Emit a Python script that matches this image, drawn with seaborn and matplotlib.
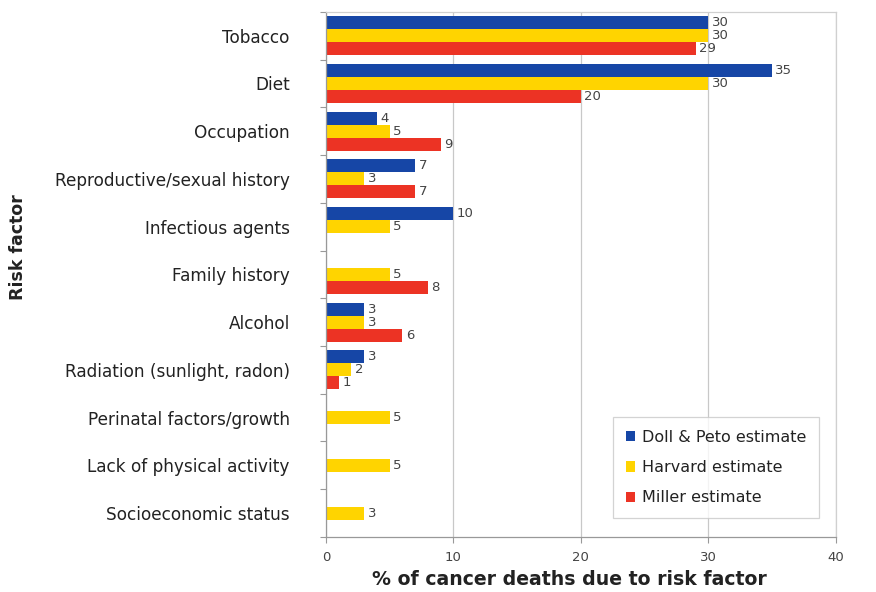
import numpy as np
import pandas as pd
import matplotlib
matplotlib.use("Agg")
import matplotlib.pyplot as plt
import seaborn as sns
from matplotlib.ticker import FixedLocator

categories = [
    "Tobacco",
    "Diet",
    "Occupation",
    "Reproductive/sexual history",
    "Infectious agents",
    "Family history",
    "Alcohol",
    "Radiation (sunlight, radon)",
    "Perinatal factors/growth",
    "Lack of physical activity",
    "Socioeconomic status",
]
series_names = ["Doll & Peto estimate", "Harvard estimate", "Miller estimate"]
doll_peto = [30, 35, 4, 7, 10, np.nan, 3, 3, np.nan, np.nan, np.nan]
harvard = [30, 30, 5, 3, 5, 5, 3, 2, 5, 5, 3]
miller = [29, 20, 9, 7, np.nan, 8, 6, 1, np.nan, np.nan, np.nan]
x_ticks = [0, 10, 20, 30, 40]

colors = ["#1646a6", "#ffd400", "#ec3324"]

rows = []
for name, vals in zip(series_names, [doll_peto, harvard, miller]):
    for cat, v in zip(categories, vals):
        rows.append({"Risk factor": cat, "Estimate": name, "Percent": v})
df = pd.DataFrame(rows)

sns.set_theme(style="white")
plt.rcParams["font.family"] = ["DejaVu Sans"]

fig, ax = plt.subplots(figsize=(8.76, 5.92), dpi=100)
fig.subplots_adjust(left=0.372, right=0.954, top=0.980, bottom=0.093)

sns.barplot(
    data=df, y="Risk factor", x="Percent", hue="Estimate",
    order=categories, hue_order=series_names, palette=colors,
    orient="h", width=0.82, saturation=1, ax=ax, errorbar=None,
    linewidth=0,
)

for cont in ax.containers:
    labels = []
    for bar in cont:
        w = bar.get_width()
        labels.append("" if (w is None or np.isnan(w) or w == 0) else f"{w:g}")
    ax.bar_label(cont, labels=labels, padding=2.5, fontsize=9.5, color="#444444")

ax.set_xlim(0, 40)
ax.set_ylim(len(categories) - 0.5, -0.5)
ax.set_xticks(x_ticks)
ax.set_xticklabels([str(t) for t in x_ticks], fontsize=9.5, color="#444444")
ax.tick_params(axis="y", length=0, labelsize=12.2, colors="#222222", pad=26)
ax.yaxis.set_minor_locator(FixedLocator(np.arange(-0.5, len(categories), 1.0)))
ax.tick_params(axis="y", which="minor", left=True, length=4, color="#999999", width=0.8)
ax.tick_params(axis="x", bottom=True, length=4, color="#999999", width=0.8, pad=6)

ax.grid(axis="x", color="#c8c8c8", linewidth=0.9)
ax.set_axisbelow(True)
for side in ["top", "right"]:
    ax.spines[side].set_color("#d0d0d0")
    ax.spines[side].set_linewidth(0.9)
for side in ["left", "bottom"]:
    ax.spines[side].set_color("#999999")
    ax.spines[side].set_linewidth(0.9)

ax.set_xlabel("% of cancer deaths due to risk factor", fontsize=13.6,
              fontweight="bold", color="#222222")
ax.xaxis.set_label_coords(0.477, -0.063)
ax.set_ylabel("Risk factor", fontsize=12.5, fontweight="bold", color="#222222")
ax.yaxis.set_label_coords(-0.586, 0.552)

leg = ax.legend(
    loc="lower right", bbox_to_anchor=(0.967, 0.036), frameon=True,
    fancybox=False, edgecolor="#c8c8c8", fontsize=11.5, title=None,
    handlelength=0.6, handleheight=0.6, handletextpad=0.4,
    labelspacing=0.95, borderpad=0.8, borderaxespad=0,
)
leg.get_frame().set_linewidth(0.9)
for t in leg.get_texts():
    t.set_color("#222222")

fig.savefig("out.png", dpi=100)
